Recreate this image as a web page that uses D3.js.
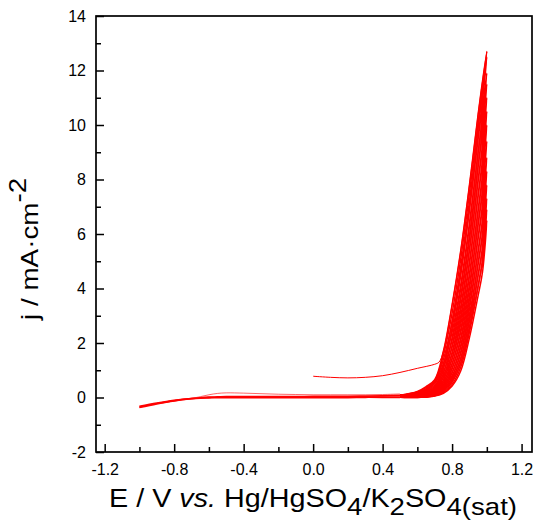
<!DOCTYPE html>
<html>
<head>
<meta charset="utf-8">
<script src="https://d3js.org/d3.v7.min.js"></script>
<style>
  body { margin: 0; background: #fff; }
  text { font-family: Arial, "Liberation Sans", sans-serif; fill: #000; }
</style>
</head>
<body>
<svg id="chart"></svg>
<script>
// axis ticks
var xTicks = [-1.2, -0.8, -0.4, 0.0, 0.4, 0.8, 1.2];
var xTickLabels = ["-1.2", "-0.8", "-0.4", "0.0", "0.4", "0.8", "1.2"];
var xMinor = [-1.0, -0.6, -0.2, 0.2, 0.6, 1.0];
var yTicks = [-2, 0, 2, 4, 6, 8, 10, 12, 14];
var yTickLabels = ["-2", "0", "2", "4", "6", "8", "10", "12", "14"];
var yMinor = [-1, 1, 3, 5, 7, 9, 11, 13];

// first anodic sweep, starting at open circuit (0 V)
var firstE = [0.0, 0.1, 0.2, 0.3, 0.4, 0.5, 0.6, 0.7, 0.725];
var firstJ = [0.78, 0.74, 0.72, 0.74, 0.80, 0.92, 1.07, 1.22, 1.30];

// low potential region, shared by all cycles
var lowE = [-1.0, -0.9, -0.8, -0.7, -0.65, -0.6, -0.55, -0.5, -0.4, -0.3, -0.2, -0.1, 0.0, 0.1, 0.2, 0.3, 0.4, 0.5];
var lowForwardJ = [-0.36, -0.23, -0.12, -0.04, -0.01, 0.01, 0.02, 0.03, 0.03, 0.03, 0.03, 0.03, 0.04, 0.04, 0.04, 0.05, 0.06, 0.08];
var lowReverseJ = [-0.33, -0.21, -0.11, -0.04, -0.02, -0.01, 0.0, 0.0, 0.0, 0.0, 0.0, 0.0, 0.0, 0.0, 0.0, 0.01, 0.01, 0.01];
var bumpJ = [-0.36, -0.22, -0.11, -0.03, 0.03, 0.10, 0.15, 0.17, 0.16, 0.14, 0.12, 0.11, 0.10, 0.10, 0.10, 0.10, 0.11, 0.13];

// oxygen evolution region, one row per cycle
var highE = [0.6, 0.65, 0.7, 0.75, 0.8, 0.85, 0.9, 0.95, 0.975, 1.0];
var forwardJ = [
  [0.22, 0.40, 0.65, 1.70, 3.40, 5.40, 7.80, 10.4, 11.6, 12.7],
  [0.20, 0.36, 0.62, 1.55, 3.10, 5.10, 7.50, 10.1, 11.3, 12.5],
  [0.18, 0.32, 0.58, 1.40, 2.75, 4.60, 6.90, 9.50, 10.7, 11.9],
  [0.17, 0.30, 0.54, 1.25, 2.40, 4.15, 6.40, 9.00, 10.2, 11.5],
  [0.15, 0.27, 0.50, 1.10, 2.10, 3.75, 5.95, 8.50, 9.70, 11.0],
  [0.14, 0.25, 0.45, 0.95, 1.85, 3.35, 5.45, 7.95, 9.15, 10.5],
  [0.12, 0.22, 0.40, 0.82, 1.60, 3.00, 5.00, 7.40, 8.60, 10.0],
  [0.11, 0.20, 0.35, 0.72, 1.42, 2.70, 4.55, 6.85, 8.05, 9.4],
  [0.10, 0.18, 0.31, 0.62, 1.24, 2.40, 4.15, 6.35, 7.50, 8.8],
  [0.09, 0.16, 0.28, 0.54, 1.08, 2.10, 3.75, 5.85, 6.95, 8.3],
  [0.08, 0.14, 0.25, 0.46, 0.92, 1.85, 3.40, 5.35, 6.45, 7.8],
  [0.07, 0.12, 0.22, 0.40, 0.80, 1.62, 3.05, 4.90, 5.95, 7.3],
  [0.06, 0.11, 0.19, 0.35, 0.70, 1.42, 2.80, 4.50, 5.45, 6.9],
  [0.05, 0.10, 0.17, 0.30, 0.60, 1.25, 2.55, 4.10, 5.00, 6.5]
];
var reverseJ = [
  [0.04, 0.10, 0.35, 1.20, 2.80, 4.80, 7.20, 9.90, 11.2, 12.7],
  [0.04, 0.09, 0.30, 1.05, 2.55, 4.50, 6.90, 9.60, 10.9, 12.5],
  [0.03, 0.08, 0.26, 0.88, 2.20, 4.00, 6.30, 9.00, 10.3, 11.9],
  [0.03, 0.07, 0.22, 0.75, 1.90, 3.60, 5.80, 8.50, 9.80, 11.5],
  [0.03, 0.06, 0.19, 0.64, 1.65, 3.20, 5.40, 8.00, 9.25, 11.0],
  [0.02, 0.05, 0.16, 0.54, 1.42, 2.85, 4.90, 7.45, 8.70, 10.5],
  [0.02, 0.05, 0.14, 0.46, 1.22, 2.50, 4.45, 6.90, 8.15, 10.0],
  [0.02, 0.04, 0.12, 0.40, 1.05, 2.20, 4.00, 6.40, 7.60, 9.4],
  [0.01, 0.04, 0.10, 0.34, 0.90, 1.92, 3.60, 5.90, 7.05, 8.8],
  [0.01, 0.03, 0.09, 0.29, 0.76, 1.68, 3.25, 5.40, 6.50, 8.3],
  [0.01, 0.03, 0.08, 0.25, 0.65, 1.45, 2.90, 4.95, 6.00, 7.8],
  [0.01, 0.02, 0.07, 0.21, 0.56, 1.28, 2.60, 4.50, 5.50, 7.3],
  [0.00, 0.02, 0.06, 0.18, 0.48, 1.12, 2.40, 4.10, 5.05, 6.9],
  [0.00, 0.02, 0.05, 0.15, 0.42, 0.98, 2.20, 3.75, 4.60, 6.5]
];

var width = 538, height = 528;
var margin = { top: 16, right: 6, bottom: 76, left: 96 };

var svg = d3.select("#chart").attr("width", width).attr("height", height);

var x = d3.scaleLinear().domain([-1.25, 1.26]).range([margin.left, width - margin.right]);
var y = d3.scaleLinear().domain([-2, 14]).range([height - margin.bottom, margin.top]);

var line = d3.line()
  .x(function (d) { return x(d[0]); })
  .y(function (d) { return y(d[1]); })
  .curve(d3.curveCatmullRom.alpha(0.5));

function pairs(es, js) {
  return es.map(function (e, i) { return [e, js[i]]; });
}

var curves = svg.append("g").attr("fill", "none").attr("stroke", "#ff0000");

// low potential sweeps
curves.append("path").attr("d", line(pairs(lowE, lowReverseJ))).attr("stroke-width", 1.8);
curves.append("path").attr("d", line(pairs(lowE, lowForwardJ))).attr("stroke-width", 1.8);
curves.append("path").attr("d", line(pairs(lowE, bumpJ))).attr("stroke-width", 1).attr("stroke-opacity", 0.6);

// each cycle: up from 0.5 V to the vertex and back
forwardJ.forEach(function (fj, c) {
  var pts = [[0.5, lowForwardJ[lowForwardJ.length - 1]]]
    .concat(pairs(highE, fj))
    .concat(pairs(highE, reverseJ[c]).reverse().slice(1))
    .concat([[0.5, lowReverseJ[lowReverseJ.length - 1]]]);
  curves.append("path").attr("d", line(pts)).attr("stroke-width", 1.5);
});

// first sweep from 0 V, joining cycle 1
var firstPts = pairs(firstE, firstJ).concat(pairs(highE, forwardJ[0]).filter(function (d) { return d[0] > 0.725; }));
curves.append("path").attr("d", line(firstPts)).attr("stroke-width", 1);

// axes, ticks pointing inward
svg.append("g")
  .attr("transform", "translate(0," + y(-2) + ")")
  .call(d3.axisBottom(x).tickValues(xTicks).tickSize(-8).tickPadding(12)
    .tickFormat(function (d, i) { return xTickLabels[i]; }));
svg.append("g")
  .attr("transform", "translate(0," + y(-2) + ")")
  .call(d3.axisBottom(x).tickValues(xMinor).tickSize(-5).tickFormat(""));

svg.append("g")
  .attr("transform", "translate(" + x(-1.25) + ",0)")
  .call(d3.axisLeft(y).tickValues(yTicks).tickSize(-8).tickPadding(10)
    .tickFormat(function (d, i) { return yTickLabels[i]; }));
svg.append("g")
  .attr("transform", "translate(" + x(-1.25) + ",0)")
  .call(d3.axisLeft(y).tickValues(yMinor).tickSize(-5).tickFormat(""));

svg.selectAll(".domain").remove();
svg.selectAll(".tick line").attr("stroke", "#000").attr("stroke-width", 1.5);
svg.selectAll(".tick text").style("font-size", "16px").style("font-family", "Arial, 'Liberation Sans', sans-serif");

// frame
svg.append("rect")
  .attr("x", x(-1.25)).attr("y", y(14))
  .attr("width", x(1.26) - x(-1.25)).attr("height", y(-2) - y(14))
  .attr("fill", "none").attr("stroke", "#000").attr("stroke-width", 1.7);

// x title
var xt = svg.append("text")
  .attr("transform", "translate(109,507) scale(1.15,1)")
  .style("font-size", "25px");
xt.append("tspan").text("E / V ");
xt.append("tspan").style("font-style", "italic").text("vs.");
xt.append("tspan").text(" Hg/HgSO");
xt.append("tspan").attr("dy", 8).style("font-size", "24px").text("4");
xt.append("tspan").attr("dy", -8).text("/K");
xt.append("tspan").attr("dy", 8).style("font-size", "24px").text("2");
xt.append("tspan").attr("dy", -8).text("SO");
xt.append("tspan").attr("dy", 8).style("font-size", "24px").text("4(sat)");

// y title
var yt = svg.append("text")
  .attr("transform", "translate(38,320) rotate(-90) scale(1.16,1)")
  .style("font-size", "24px");
yt.append("tspan").text("j / mA\u00b7cm");
yt.append("tspan").attr("dy", -12).text("-2");
</script>
</body>
</html>
